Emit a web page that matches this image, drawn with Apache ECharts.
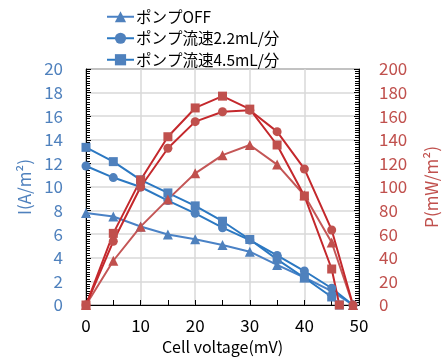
<!DOCTYPE html>
<html>
<head>
<meta charset="utf-8">
<script src="https://cdn.jsdelivr.net/npm/echarts@6/dist/echarts.min.js"></script>
<style>
  html, body { margin: 0; padding: 0; background: #fff; }
  #chart { width: 448px; height: 360px; }
</style>
</head>
<body>
<div id="chart"></div>
<script>
// cell voltage (mV)
var voltage = [0, 5, 10, 15, 20, 25, 30, 35, 40, 45, 48.9];
var voltageFast = [0, 5, 10, 15, 20, 25, 30, 35, 40, 45, 46.4];

var seriesNames = ['ポンプOFF', 'ポンプ流速2.2mL/分', 'ポンプ流速4.5mL/分'];

// current density I (A/m2)
var currentOff = [7.8, 7.5, 6.65, 5.97, 5.57, 5.08, 4.52, 3.4, 2.33, 1.18, 0];
var current22 = [11.78, 10.8, 10.0, 8.85, 7.77, 6.55, 5.5, 4.2, 2.88, 1.42, 0];
var current45 = [13.36, 12.15, 10.6, 9.5, 8.4, 7.1, 5.55, 3.87, 2.31, 0.68, 0];

// power density P (mW/m2)
var powerOff = [0, 37.5, 66.4, 89.5, 111.6, 127, 135.6, 119, 93, 53, 0];
var power22 = [0, 54, 100, 132.8, 155.4, 163.8, 165, 146.9, 115.3, 63.6, 0];
var power45 = [0, 60.7, 106, 142.6, 167, 177, 166, 135.6, 92.4, 30.5, 0];

function pairs(xs, ys) {
  return xs.map(function (x, i) { return [x, ys[i]]; });
}

var font = '"Noto Sans CJK JP", "Noto Sans", sans-serif';
var blueLine = '#2b78c2';
var blueLight = '#4a82c6';
var blueMark = '#4f81bd';
var redLine = '#c4282c';
var redLight = '#c45656';
var redMark = '#c0504d';

var chart = echarts.init(document.getElementById('chart'));

function lineSeries(name, yIndex, data, symbol, size, lineColor, markColor) {
  return {
    name: name,
    type: 'line',
    yAxisIndex: yIndex,
    data: data,
    symbol: symbol,
    symbolSize: size,
    showSymbol: true,
    lineStyle: { color: lineColor, width: 2 },
    itemStyle: { color: markColor },
    emphasis: { disabled: true },
    animation: false
  };
}

var option = {
  animation: false,
  textStyle: { fontFamily: font },
  legend: {
    data: seriesNames,
    orient: 'vertical',
    left: 101,
    top: 4,
    itemWidth: 27,
    itemHeight: 14,
    itemGap: 6,
    textStyle: { fontSize: 15.5, color: '#000', fontFamily: font, padding: [0, 0, 0, -3] }
  },
  grid: {
    left: 86,
    right: 86,
    top: 69,
    bottom: 55,
    show: true,
    borderColor: '#000',
    borderWidth: 1
  },
  xAxis: {
    type: 'value',
    min: 0,
    max: 50,
    interval: 10,
    name: 'Cell voltage(mV)',
    nameLocation: 'middle',
    nameGap: 30,
    nameTextStyle: { fontSize: 16, color: '#000', fontFamily: font },
    axisLine: { lineStyle: { color: '#000', width: 1 } },
    axisTick: { show: true, inside: true, length: 5, lineStyle: { color: '#000' } },
    minorTick: { show: true, splitNumber: 2, length: 5, lineStyle: { color: '#000' } },
    axisLabel: { fontSize: 17, color: '#000', margin: 12, fontFamily: font },
    splitLine: { show: true, lineStyle: { color: '#d9d9d9', width: 1.5 } }
  },
  yAxis: [
    {
      type: 'value',
      position: 'left',
      min: 0,
      max: 20,
      interval: 2,
      name: 'I(A/m²)',
      nameLocation: 'middle',
      nameGap: 50,
      nameTextStyle: { fontSize: 17, color: blueMark, fontFamily: font },
      axisLine: { show: true, lineStyle: { color: '#000', width: 1 } },
      axisTick: { show: true, inside: true, length: 5, lineStyle: { color: '#000' } },
      minorTick: { show: true, splitNumber: 10, length: 4, lineStyle: { color: '#000' } },
      axisLabel: { fontSize: 17, color: blueMark, margin: 23, fontFamily: font },
      splitLine: { show: true, lineStyle: { color: '#d9d9d9', width: 1.5 } }
    },
    {
      type: 'value',
      position: 'right',
      min: 0,
      max: 200,
      interval: 20,
      name: 'P(mW/m²)',
      nameLocation: 'middle',
      nameGap: 64,
      nameTextStyle: { fontSize: 17, color: redMark, fontFamily: font },
      axisLine: { show: true, lineStyle: { color: '#000', width: 1 } },
      axisTick: { show: true, inside: true, length: 5, lineStyle: { color: '#000' } },
      minorTick: { show: true, splitNumber: 10, length: 4, lineStyle: { color: '#000' } },
      axisLabel: { fontSize: 17, color: redMark, margin: 20, fontFamily: font },
      splitLine: { show: false }
    }
  ],
  series: [
    lineSeries(seriesNames[0], 0, pairs(voltage, currentOff), 'triangle', 10, blueLight, blueMark),
    lineSeries(seriesNames[1], 0, pairs(voltage, current22), 'circle', 9, blueLine, blueMark),
    lineSeries(seriesNames[2], 0, pairs(voltageFast, current45), 'rect', 9, blueLine, blueMark),
    lineSeries('P ' + seriesNames[0], 1, pairs(voltage, powerOff), 'triangle', 10, redLight, redMark),
    lineSeries('P ' + seriesNames[1], 1, pairs(voltage, power22), 'circle', 9, redLine, redMark),
    lineSeries('P ' + seriesNames[2], 1, pairs(voltageFast, power45), 'rect', 9, redLine, redMark)
  ]
};

option && chart.setOption(option);
window.addEventListener('resize', function () {
  chart.resize();
});
</script>
</body>
</html>
